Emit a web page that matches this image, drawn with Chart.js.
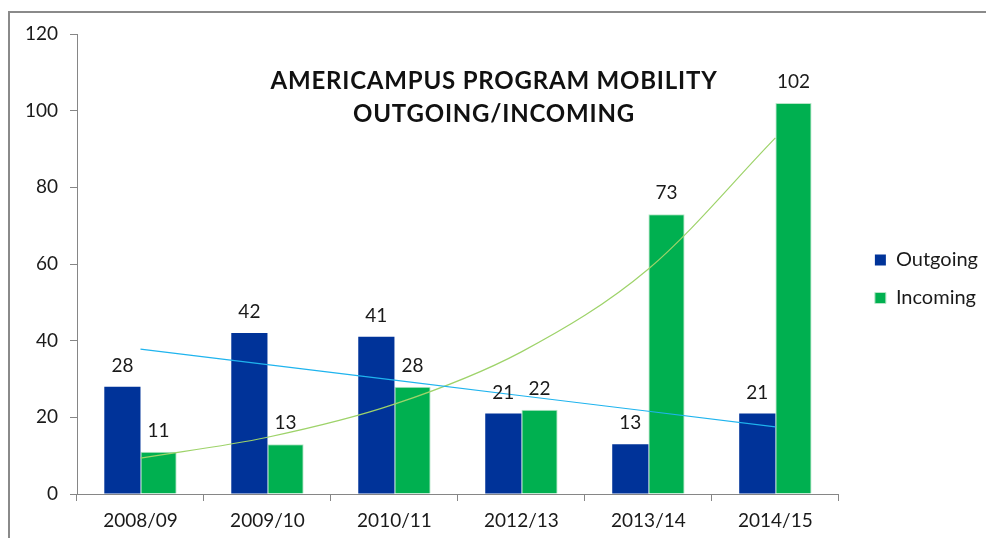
<!DOCTYPE html>
<html>
<head>
<meta charset="utf-8">
<script src="https://cdn.jsdelivr.net/npm/chart.js@4/dist/chart.umd.min.js"></script>
<style>
  html, body { margin: 0; padding: 0; background: #fff; overflow: hidden; }
  #frame { position: absolute; left: 8px; top: 11px; width: 1100px; height: 700px; border: 2px solid #8a8a8a; box-sizing: border-box; }
  #wrap { position: absolute; left: 0; top: 0; width: 986px; height: 538px; }
</style>
</head>
<body>
<div id="frame"></div>
<div id="wrap"><canvas id="c" width="986" height="538"></canvas></div>
<script>
const categories = ['2008/09', '2009/10', '2010/11', '2012/13', '2013/14', '2014/15'];
const outgoing = [28, 42, 41, 21, 13, 21];
const incoming = [11, 13, 28, 22, 73, 102];
const titleLines = ['AMERICAMPUS PROGRAM MOBILITY', 'OUTGOING/INCOMING'];
const yTicks = [0, 20, 40, 60, 80, 100, 120];

// Trendlines (least squares, like the spreadsheet's): linear for outgoing, exponential for incoming
function linearTrend(vals) {
  const n = vals.length, xs = vals.map((_, i) => i + 1);
  const mx = xs.reduce((a, b) => a + b) / n, my = vals.reduce((a, b) => a + b) / n;
  let sxy = 0, sxx = 0;
  xs.forEach((x, i) => { sxy += (x - mx) * (vals[i] - my); sxx += (x - mx) * (x - mx); });
  const b = sxy / sxx, a = my - b * mx;
  return xs.map(x => a + b * x);
}
function expTrend(vals) {
  const logs = vals.map(v => Math.log(v));
  return linearTrend(logs).map(v => Math.exp(v));
}
const outgoingTrend = linearTrend(outgoing);
const incomingTrend = expTrend(incoming);

const FONT = 'Lato, "Open Sans", sans-serif';

const valueLabels = {
  id: 'valueLabels',
  afterDatasetsDraw(chart) {
    const ctx = chart.ctx;
    ctx.save();
    ctx.font = '19px ' + FONT;
    ctx.fillStyle = '#1a1a1a';
    ctx.textAlign = 'center';
    ctx.textBaseline = 'middle';
    [0, 1].forEach(di => {
      const meta = chart.getDatasetMeta(di);
      meta.data.forEach((bar, i) => {
        ctx.fillText(String(chart.data.datasets[di].data[i]), bar.x, bar.y - 21);
      });
    });
    ctx.restore();
  }
};

const plotTitle = {
  id: 'plotTitle',
  afterDraw(chart) {
    const ctx = chart.ctx;
    ctx.save();
    ctx.font = 'bold 24px ' + FONT;
    ctx.letterSpacing = '0.8px';
    ctx.fillStyle = '#111';
    ctx.textAlign = 'center';
    ctx.textBaseline = 'middle';
    const cx = 494;
    ctx.fillText(titleLines[0], cx, 81);
    ctx.fillText(titleLines[1], cx, 114);
    ctx.restore();
  }
};

// nudge the library legend to sit where the spreadsheet placed it
const legendNudge = {
  id: 'legendNudge',
  afterLayout(chart) {
    const lg = chart.legend;
    if (!lg) return;
    lg.left += 18; lg.right += 18;
    lg.top -= 7; lg.bottom -= 7;
  }
};

new Chart(document.getElementById('c'), {
  type: 'bar',
  data: {
    labels: categories,
    datasets: [
      { label: 'Outgoing', data: outgoing, backgroundColor: '#003399', borderWidth: 0,
        categoryPercentage: 0.57, barPercentage: 1.0, order: 2 },
      { label: 'Incoming', data: incoming, backgroundColor: '#00b050', borderColor: '#b8e6c8', borderWidth: 1,
        categoryPercentage: 0.57, barPercentage: 1.0, order: 2 },
      { type: 'line', label: 'Linear (Outgoing)', data: outgoingTrend, borderColor: '#1fb4ee', borderWidth: 1.2,
        pointRadius: 0, fill: false, tension: 0, order: 1 },
      { type: 'line', label: 'Expon. (Incoming)', data: incomingTrend, borderColor: '#9ed36a', borderWidth: 1.2,
        pointRadius: 0, fill: false, cubicInterpolationMode: 'monotone', order: 1 }
    ]
  },
  options: {
    responsive: false,
    animation: false,
    events: [],
    layout: { padding: { top: 34, left: 0, right: 16, bottom: 0 } },
    plugins: {
      legend: {
        position: 'right',
        align: 'center',
        labels: {
          filter: item => item.datasetIndex < 2,
          boxWidth: 11, boxHeight: 11,
          padding: 18,
          color: '#1a1a1a',
          font: { family: FONT, size: 20 }
        }
      },
      tooltip: { enabled: false }
    },
    scales: {
      x: {
        offset: true,
        grid: { display: true, drawOnChartArea: false, offset: true, color: '#868686', tickLength: 7 },
        border: { color: '#868686', width: 1 },
        ticks: { color: '#1a1a1a', font: { family: FONT, size: 19 }, padding: 8, maxRotation: 0 },
        afterFit(s) { s.height = 44; }
      },
      y: {
        min: 0, max: 120,
        afterBuildTicks(s) { s.ticks = yTicks.map(v => ({ value: v })); },
        grid: { display: true, drawOnChartArea: false, color: '#868686', tickLength: 7 },
        border: { color: '#868686', width: 1 },
        ticks: { color: '#1a1a1a', font: { family: FONT, size: 19 }, padding: 12 },
        afterFit(s) { s.width = 77; }
      }
    }
  },
  plugins: [valueLabels, plotTitle, legendNudge]
});
</script>
</body>
</html>
